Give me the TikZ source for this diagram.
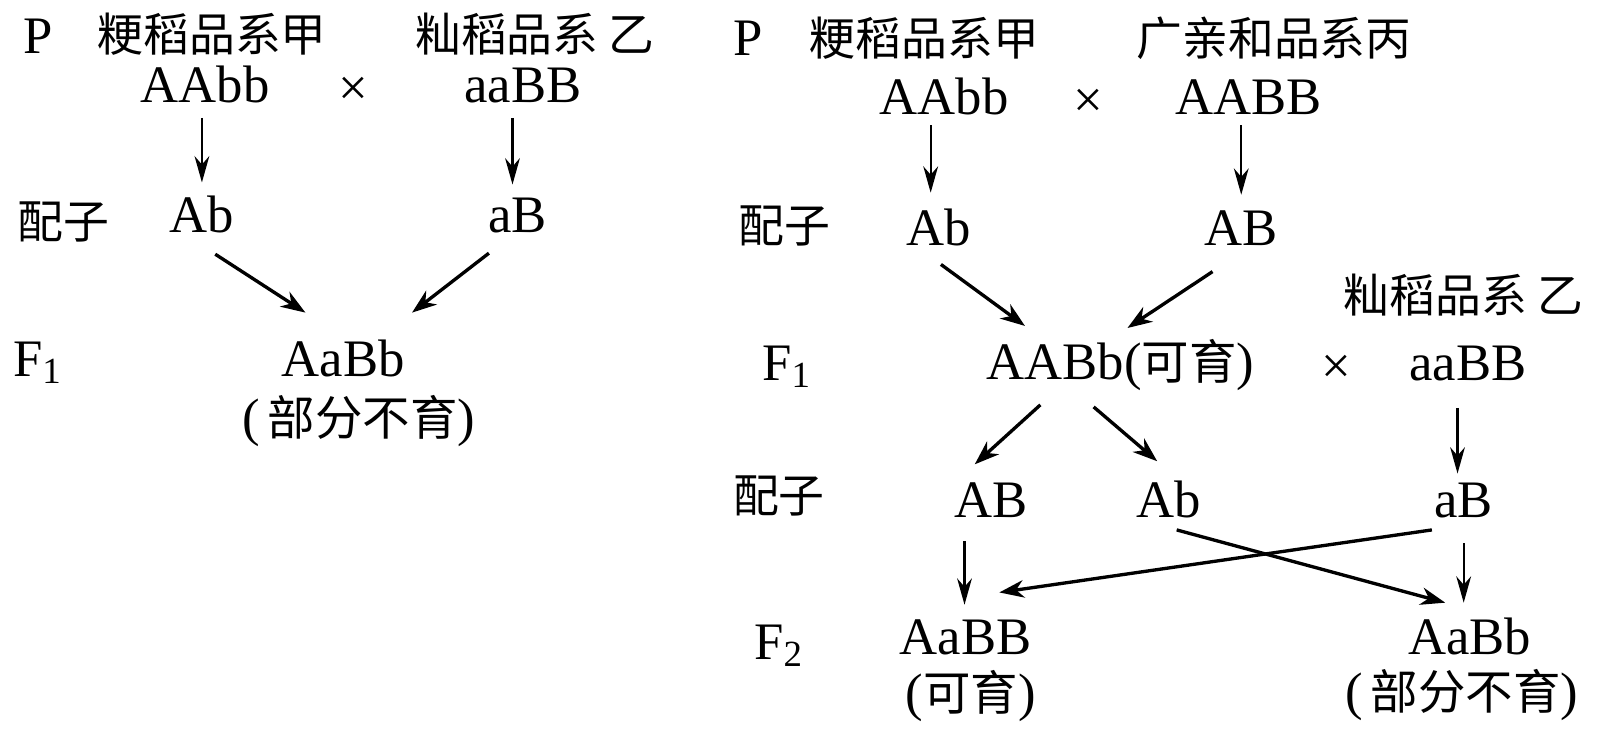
\documentclass[tikz,border=0pt]{standalone}
\usepackage{fontspec}
\setmainfont{Liberation Serif}
\newfontfamily\cjk{Noto Sans CJK SC}[Scale=0.9]
\usetikzlibrary{arrows.meta}
\tikzset{
	gene/.style = {inner sep=0pt, font=\fontsize{15}{17}\selectfont,
		text height=9.9pt, text depth=0pt},% genotype
	strain/.style = {inner sep=0pt, font=\fontsize{14.5}{17}\selectfont\cjk,
		text height=9.6pt, text depth=0pt},% strain name
	gen/.style = {gene, anchor=center},% generation label
	vlink/.style = {-{Stealth[length=7.5pt, width=4.2pt, inset=2.4pt]},
		line width=0.65pt},% straight down
	dlink/.style = {-{Stealth[length=7pt, width=5pt, inset=2.2pt]},
		line width=0.95pt}% slanted
}

\begin{document}
\begin{tikzpicture}[x=0.01025cm, y=-0.01025cm]
	\useasboundingbox (0,0) rectangle (1561,731);
	% left cross
	\node [gen] (pa) at (37,35) {P};
	\node [strain] (jia1) at (207,34) {粳稻品系甲};
	\node [strain] (yi1) at (522,34) {籼稻品系\ 乙};
	\node [gene] (p11) at (200,83) {AAbb};
	\node [gene] (x1) at (345,86) {×};
	\node [gene] (p12) at (510,83) {aaBB};
	\node [strain] (pz1) at (62,216) {配子};
	\node [gene] (g11) at (197,210) {Ab};
	\node [gene] (g12) at (505,210) {aB};
	\node [gen] (fa) at (37,350) {F\textsubscript{1}};
	\node [gene] (f11) at (335,350) {AaBb};
	\node [gene] (n11) at (350,408) {({\cjk\,部分不育})};
	% right cross
	\node [gen] (pb) at (730,37) {P};
	\node [strain] (jia2) at (902,38) {粳稻品系甲};
	\node [strain] (bing) at (1243,38) {广亲和品系丙};
	\node [gene] (p21) at (921,95) {AAbb};
	\node [gene] (x2) at (1062,98) {×};
	\node [gene] (p22) at (1218,95) {AABB};
	\node [strain] (pz2) at (765,220) {配子};
	\node [gene] (g21) at (916,223) {Ab};
	\node [gene] (g22) at (1211,223) {AB};
	\node [strain] (yi2) at (1428,288) {籼稻品系\ 乙};
	\node [gen] (fb) at (768,354) {F\textsubscript{1}};
	\node [gene] (f21) at (1093,353) {AABb({\cjk 可育})};
	\node [gene] (x3) at (1304,357) {×};
	\node [gene] (p24) at (1432,354) {aaBB};
	\node [strain] (pz3) at (760,484) {配子};
	\node [gene] (g31) at (967,488) {AB};
	\node [gene] (g32) at (1140,488) {Ab};
	\node [gene] (g33) at (1428,488) {aB};
	\node [gen] (fc) at (760,626) {F\textsubscript{2}};
	\node [gene] (f31) at (942,622) {AaBB};
	\node [gene] (n31) at (947,676) {({\cjk 可育})};
	\node [gene] (f32) at (1434,622) {AaBb};
	\node [gene] (n32) at (1426,675) {({\cjk\,部分不育})};
	% arrows
	\draw [vlink] ([shift={(-3,32)}]p11.center) -- ([shift={(0,-32)}]g11.center);
	\draw [vlink] ([shift={(-10,32)}]p12.center) -- ([shift={(-5,-30)}]g12.center);
	\draw [dlink] ([shift={(13,38)}]g11.center) -- ([shift={(-37,-45)}]f11.center);
	\draw [dlink] ([shift={(-28,37)}]g12.center) -- ([shift={(67,-45)}]f11.center);
	\draw [vlink] ([shift={(-13,27)}]p21.center) -- ([shift={(-8,-35)}]g21.center);
	\draw [vlink] ([shift={(-7,27)}]p22.center) -- ([shift={(0,-33)}]g22.center);
	\draw [dlink] ([shift={(2,35)}]g21.center) -- ([shift={(-93,-35)}]f21.center);
	\draw [dlink] ([shift={(-28,42)}]g22.center) -- ([shift={(7,-33)}]f21.center);
	\draw [dlink] ([shift={(-78,42)}]f21.center) -- ([shift={(-16,-35)}]g31.center);
	\draw [dlink] ([shift={(-26,44)}]f21.center) -- ([shift={(-11,-38)}]g32.center);
	\draw [vlink] ([shift={(-10,44)}]p24.center) -- ([shift={(-6,-26)}]g33.center);
	\draw [vlink] ([shift={(-26,40)}]g31.center) -- ([shift={(-1,-32)}]f31.center);
	\draw [dlink] ([shift={(-31,29)}]g33.center) -- ([shift={(33,-44)}]f31.center);
	\draw [dlink] ([shift={(8,29)}]g32.center) -- ([shift={(-24,-34)}]f32.center);
	\draw [vlink] ([shift={(0,42)}]g33.center) -- ([shift={(-6,-34)}]f32.center);
\end{tikzpicture}
\end{document}
